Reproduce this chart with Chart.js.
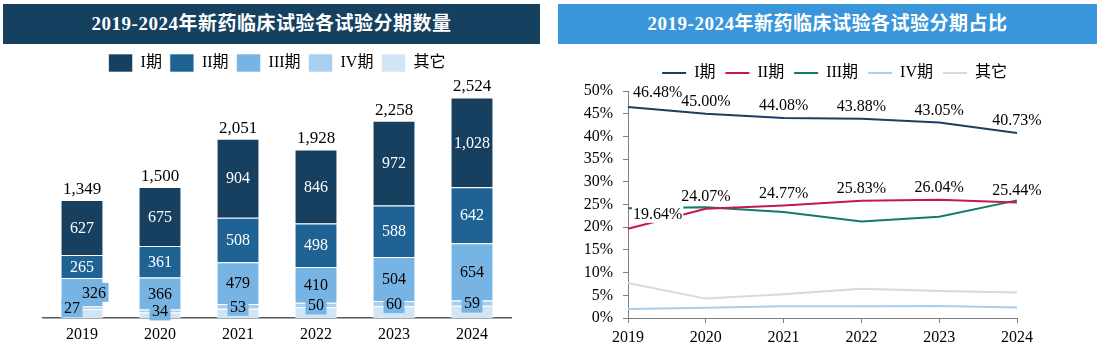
<!DOCTYPE html>
<html>
<head>
<meta charset="utf-8">
<script src="https://cdn.jsdelivr.net/npm/chart.js@4.4.1/dist/chart.umd.min.js"></script>
<style>
  body { margin: 0; width: 1103px; height: 358px; background: #fff; position: relative; overflow: hidden;
         font-family: "Liberation Serif", "Noto Sans CJK SC", serif; }
  .banner { position: absolute; top: 4px; height: 40px; line-height: 40px; color: #fff; font-weight: bold;
            font-size: 19px; letter-spacing: 0.5px; text-align: center; }
  #t1 { left: 3px; width: 537px; background: #15405f; }
  #t2 { left: 558px; width: 539px; background: #3a96da; }
  .box { position: absolute; top: 44px; }
  #b1 { left: 0; }
  #b2 { left: 555px; }
</style>
</head>
<body>
<div class="banner" id="t1">2019-2024年新药临床试验各试验分期数量</div>
<div class="banner" id="t2">2019-2024年新药临床试验各试验分期占比</div>
<div class="box" id="b1"><canvas id="countChart" width="543" height="314"></canvas></div>
<div class="box" id="b2"><canvas id="shareChart" width="548" height="314"></canvas></div>
<script>
const years = ['2019', '2020', '2021', '2022', '2023', '2024'];

// trial counts per phase
const phase1 = [627, 675, 904, 846, 972, 1028];
const phase2 = [265, 361, 508, 498, 588, 642];
const phase3 = [326, 366, 479, 410, 504, 654];
const phase4 = [27, 34, 53, 50, 60, 59];
const others = [104, 64, 107, 124, 134, 141];
const totals = [1349, 1500, 2051, 1928, 2258, 2524];

// share of each phase, %
const share1 = [46.48, 45.00, 44.08, 43.88, 43.05, 40.73];
const share2 = [19.64, 24.07, 24.77, 25.83, 26.04, 25.44];
const share3 = [24.17, 24.40, 23.35, 21.27, 22.32, 25.91];
const share4 = [2.00, 2.27, 2.58, 2.59, 2.66, 2.34];
const shareOther = [7.71, 4.27, 5.22, 6.43, 5.93, 5.59];

const FONT = '"Liberation Serif", "Noto Sans CJK SC", serif';
const C = { p1: '#163f60', p2: '#1f6394', p3: '#78b4e3', p4: '#a8cfef', other: '#d0e5f6' };

// numbers inside / above the stacked bars
const barLabels = {
  id: 'barLabels',
  afterDatasetsDraw(chart) {
    const ctx = chart.ctx;
    ctx.save();
    ctx.textAlign = 'center';
    ctx.textBaseline = 'middle';
    chart.data.datasets.forEach((ds, i) => {
      if (!ds.labelColor) return;
      chart.getDatasetMeta(i).data.forEach((bar, j) => {
        const text = ds.data[j].toLocaleString('en-US');
        let x = bar.x;
        let y = (bar.y + bar.base) / 2;
        if (j === 0 && ds.label === 'IV期') x -= 10;   // 2019 labels pushed apart
        if (j === 0 && ds.label === 'III期') x += 12;
        ctx.font = '16px ' + FONT;
        if (ds.labelBox) {
          const w = ctx.measureText(text).width + 5;
          ctx.fillStyle = ds.labelBox;
          ctx.fillRect(x - w / 2, y - 9.5, w, 19);
        }
        ctx.fillStyle = ds.labelColor;
        ctx.fillText(text, x, y + 1);
      });
    });
    // totals on top
    const top = chart.getDatasetMeta(chart.data.datasets.length - 1).data;
    ctx.font = '17px ' + FONT;
    ctx.fillStyle = '#000';
    ctx.textBaseline = 'alphabetic';
    top.forEach((bar, j) => ctx.fillText(totals[j].toLocaleString('en-US'), bar.x, bar.y - 6));
    ctx.restore();
  }
};

new Chart(document.getElementById('countChart'), {
  type: 'bar',
  data: {
    labels: years,
    datasets: [
      { label: '其它', data: others, backgroundColor: C.other },
      { label: 'IV期', data: phase4, backgroundColor: C.p4, labelColor: '#000', labelBox: C.p3 },
      { label: 'III期', data: phase3, backgroundColor: C.p3, labelColor: '#000', labelBox: C.p3 },
      { label: 'II期', data: phase2, backgroundColor: C.p2, labelColor: '#fff' },
      { label: 'I期', data: phase1, backgroundColor: C.p1, labelColor: '#fff' }
    ]
  },
  options: {
    responsive: false,
    animation: false,
    layout: { padding: { left: 43, right: 32, top: 2, bottom: 0 } },
    datasets: { bar: { barPercentage: 0.55, categoryPercentage: 1, borderWidth: 1, borderColor: 'rgba(255,255,255,0.6)' } },
    plugins: {
      tooltip: { enabled: false },
      legend: {
        reverse: true,
        labels: { boxWidth: 24, boxHeight: 18, padding: 8, color: '#000', font: { family: FONT, size: 16 } }
      }
    },
    scales: {
      x: {
        stacked: true,
        grid: { display: false, drawTicks: false },
        border: { display: true, color: '#595959', width: 1.5 },
        ticks: { color: '#000', padding: 7, font: { family: FONT, size: 16 } },
        afterFit: s => { s.height = 40; }
      },
      y: { stacked: true, display: false, min: 0, max: 2700 }
    }
  },
  plugins: [barLabels]
});

// percentage labels over the I期 / II期 lines
const lineLabels = {
  id: 'lineLabels',
  afterDatasetsDraw(chart) {
    const ctx = chart.ctx;
    ctx.save();
    ctx.font = '16px ' + FONT;
    ctx.textBaseline = 'middle';
    ctx.textAlign = 'left';
    chart.data.datasets.forEach((ds, i) => {
      if (!ds.showLabels) return;
      chart.getDatasetMeta(i).data.forEach((pt, j) => {
        const text = ds.data[j].toFixed(2) + '%';
        const w = ctx.measureText(text).width;
        const x = j === 0 ? pt.x + 5 : pt.x - w / 2;
        const y = pt.y - (j === 0 ? 15 : 13);
        if (ds.labelBg) {
          ctx.fillStyle = '#fff';
          ctx.fillRect(x - 1, y - 9, w + 2, 18);
        }
        ctx.fillStyle = '#000';
        ctx.fillText(text, x, y + 1);
      });
    });
    ctx.restore();
  }
};

const lineSet = (label, data, color, extra) => Object.assign({
  label, data, borderColor: color, backgroundColor: color,
  borderWidth: 2, pointRadius: 0, pointStyle: 'line', tension: 0
}, extra || {});

new Chart(document.getElementById('shareChart'), {
  type: 'line',
  data: {
    labels: years,
    datasets: [
      lineSet('I期', share1, '#1c3f5f', { showLabels: true }),
      lineSet('II期', share2, '#c8174a', { showLabels: true, labelBg: true }),
      lineSet('III期', share3, '#117a6b'),
      lineSet('IV期', share4, '#a8cff0'),
      lineSet('其它', shareOther, '#d9d9d9')
    ]
  },
  options: {
    responsive: false,
    animation: false,
    layout: { padding: { left: 0, right: 86, top: 1, bottom: 0 } },
    plugins: {
      tooltip: { enabled: false },
      legend: {
        align: 'end',
        labels: { usePointStyle: true, pointStyleWidth: 24, padding: 10, color: '#000',
                  font: { family: FONT, size: 16 } }
      }
    },
    scales: {
      x: {
        grid: { drawOnChartArea: false, tickLength: 5, color: '#7f7f7f' },
        border: { color: '#7f7f7f' },
        ticks: { color: '#000', padding: 5, font: { family: FONT, size: 16 } },
        afterFit: s => { s.height = 40; }
      },
      y: {
        min: 0, max: 50,
        grid: { drawOnChartArea: false, tickLength: 5, color: '#7f7f7f' },
        border: { color: '#7f7f7f' },
        ticks: { stepSize: 5, color: '#000', padding: 10, font: { family: FONT, size: 16 },
                 callback: v => v + '%' },
        // fixed axis width, and leave a gap under the legend
        afterFit: s => { s.width = 73; s.paddingTop = 47; }
      }
    }
  },
  plugins: [lineLabels]
});
</script>
</body>
</html>
